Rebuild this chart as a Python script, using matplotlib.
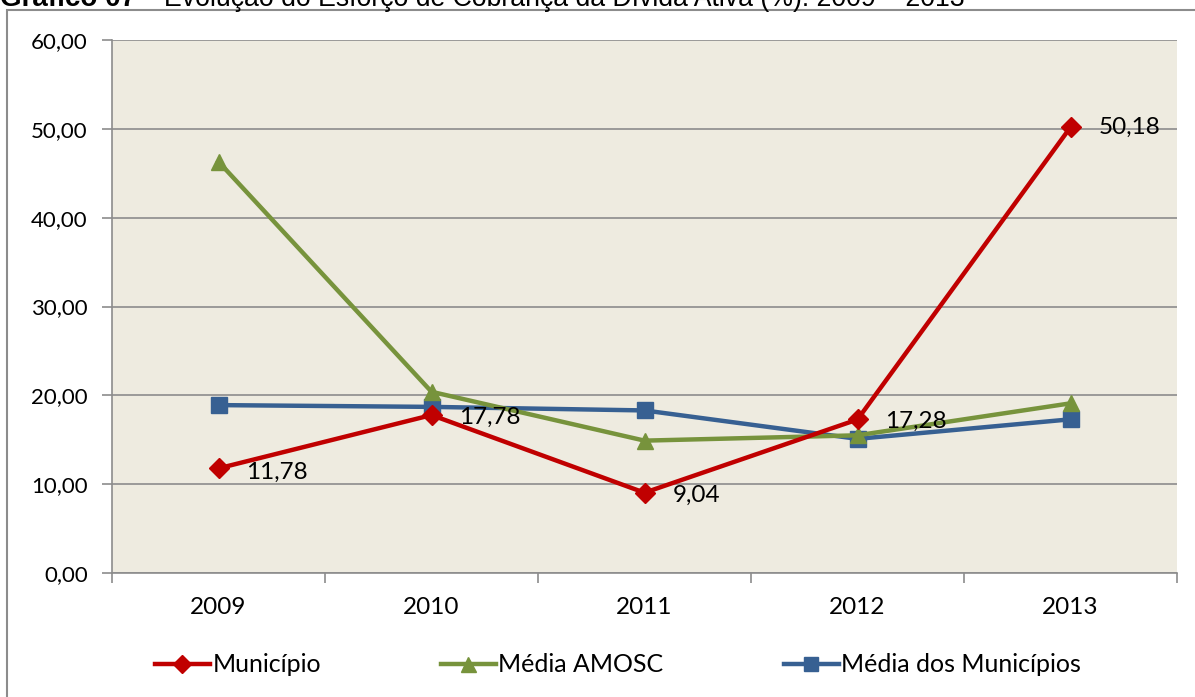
import matplotlib
matplotlib.use('Agg')
import matplotlib.pyplot as plt
from matplotlib.patches import Rectangle

# Dados
anos = ['2009', '2010', '2011', '2012', '2013']
municipio = [11.78, 17.78, 9.04, 17.28, 50.18]
media_amosc = [46.3, 20.4, 14.9, 15.5, 19.1]
media_municipios = [18.9, 18.7, 18.3, 15.1, 17.3]
rotulos_municipio = ['11,78', '17,78', '9,04', '17,28', '50,18']
y_ticks = [0, 10, 20, 30, 40, 50, 60]

plt.rcParams['font.family'] = ['Lato', 'DejaVu Sans']

fig = plt.figure(figsize=(11.95, 6.97), dpi=100)
fig.patch.set_facecolor('white')

# moldura do grafico
fig.patches.append(Rectangle((7 / 1195, -0.05), 1.1, 1 - 10 / 697 + 0.05,
                             transform=fig.transFigure, fill=False,
                             edgecolor='#8c8c8c', linewidth=1.5))

# titulo (cortado no topo, como na imagem original)
y_tit = 1 - 6 / 697
fig.text(0.0, y_tit, 'Gráfico 07', fontsize=20, fontweight='bold',
         family='Liberation Sans', va='baseline', ha='left')
fig.text(141 / 1195, y_tit, '–', fontsize=19.2,
         family='Liberation Sans', va='baseline', ha='left')
fig.text(965 / 1195, y_tit, 'Evolução do Esforço de Cobrança da Dívida Ativa (%): 2009 – 2013',
         fontsize=19.2, family='Liberation Sans', va='baseline', ha='right')

ax = fig.add_axes([112 / 1195, 1 - 573 / 697, (1177 - 112) / 1195, (573 - 40) / 697])
ax.set_facecolor('#EEEBE0')
x = list(range(len(anos)))

ax.plot(x, municipio, color='#C00000', linewidth=3.2, marker='D', markersize=10,
        label='Município', zorder=5)
ax.plot(x, media_amosc, color='#77933C', linewidth=3.2, marker='^', markersize=12,
        label='Média AMOSC', zorder=4)
ax.plot(x, media_municipios, color='#376092', linewidth=3.2, marker='s', markersize=11,
        label='Média dos Municípios', zorder=3)

offsets = [(20, -3), (20, -2), (20, -2), (20, -1), (20, 0)]
for i, (v, txt) in enumerate(zip(municipio, rotulos_municipio)):
    ax.annotate(txt, (i, v), xytext=offsets[i], textcoords='offset points',
                ha='left', va='center', fontsize=17.5, zorder=6)

ax.set_xlim(-0.5, 4.5)
ax.set_ylim(0, 60)
ax.set_yticks(y_ticks)
ax.set_yticklabels([f'{v:.2f}'.replace('.', ',') for v in y_ticks], fontsize=16)
ax.set_xticks(x)
ax.set_xticklabels(anos, fontsize=17.5)
ax.set_xticks([-0.5, 0.5, 1.5, 2.5, 3.5, 4.5], minor=True)
ax.tick_params(axis='x', which='major', length=0, pad=17)
ax.tick_params(axis='x', which='minor', length=7.5, color='#8c8c8c', width=1.2)
ax.tick_params(axis='y', length=7.5, color='#8c8c8c', width=1.2, pad=10)
ax.grid(True, axis='y', color='#8c8c8c', linewidth=1.2)
ax.set_axisbelow(True)
for s in ['top', 'right']:
    ax.spines[s].set_visible(False)
for s in ['left', 'bottom']:
    ax.spines[s].set_color('#8c8c8c')
    ax.spines[s].set_linewidth(1.2)

fig.legend(loc='center', bbox_to_anchor=(0.517, 1 - 665 / 697), ncol=3,
           frameon=False, fontsize=18, handlelength=2.2, handletextpad=0.1,
           columnspacing=4.8, markerscale=0.9)

fig.savefig('out.png', dpi=100)
